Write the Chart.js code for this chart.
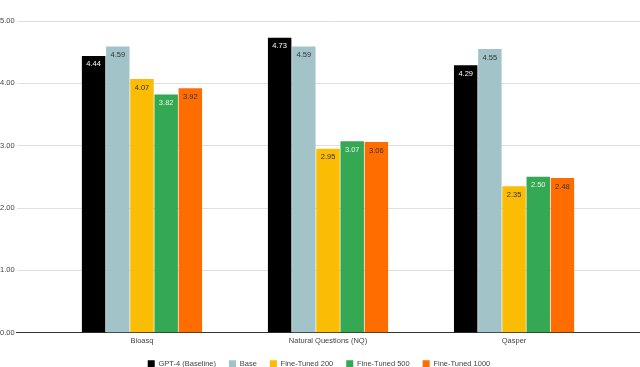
<!DOCTYPE html>
<html>
<head>
<meta charset="utf-8">
<script src="https://cdn.jsdelivr.net/npm/chart.js@4.4.1/dist/chart.umd.min.js"></script>
<style>
    html, body { margin: 0; padding: 0; background: #fff; overflow: hidden; }
    #wrap { position: relative; width: 640px; height: 367px; overflow: hidden; }
    #chart-area { position: absolute; left: -2px; top: 0; }
</style>
</head>
<body>
<div id="wrap"><canvas id="chart-area" width="642" height="367"></canvas></div>
<script>
// data
var categories = ['Bioasq', 'Natural Questions (NQ)', 'Qasper'];
var seriesNames = ['GPT-4 (Baseline)', 'Base', 'Fine-Tuned 200', 'Fine-Tuned 500', 'Fine-Tuned 1000'];
var gpt4 = [4.44, 4.73, 4.29];
var base = [4.59, 4.59, 4.55];
var ft200 = [4.07, 2.95, 2.35];
var ft500 = [3.82, 3.07, 2.50];
var ft1000 = [3.92, 3.06, 2.48];
var yTicks = [0, 1, 2, 3, 4, 5];

// set color
var colors = ['#000000', '#a2c4c9', '#fbbc04', '#34a853', '#ff6d01'];
var labelColors = ['#ffffff', '#333333', '#333333', '#e8f5ea', '#333333'];
var fontFamily = '"Liberation Sans", Arial, sans-serif';

function toPoints(arr) {
    var pts = [];
    for (var i = 0; i < arr.length; i++) {
        pts.push({ x: i, y: arr[i] });
    }
    return pts;
}

var allSeries = [gpt4, base, ft200, ft500, ft1000];
var datasets = [];
for (var s = 0; s < allSeries.length; s++) {
    datasets.push({
        label: seriesNames[s],
        data: toPoints(allSeries[s]),
        backgroundColor: colors[s],
        borderWidth: 0,
        categoryPercentage: 0.65,
        barPercentage: 0.97
    });
}

// value labels inside the top of each bar
var valueLabels = {
    id: 'valueLabels',
    afterDatasetsDraw: function (chart) {
        var ctx = chart.ctx;
        ctx.save();
        ctx.font = '7.5px ' + fontFamily;
        ctx.textAlign = 'center';
        ctx.textBaseline = 'middle';
        chart.data.datasets.forEach(function (ds, i) {
            var meta = chart.getDatasetMeta(i);
            meta.data.forEach(function (bar, j) {
                ctx.fillStyle = labelColors[i];
                ctx.fillText(ds.data[j].y.toFixed(2), bar.x, bar.y + 8.5);
            });
        });
        ctx.restore();
    }
};

var ctx = document.getElementById('chart-area').getContext('2d');
var config = {
    type: 'bar',
    data: { datasets: datasets },
    options: {
        responsive: false,
        animation: false,
        layout: { padding: { top: 21, right: 0, left: 0, bottom: -10.5 } },
        scales: {
            x: {
                type: 'linear',
                min: -0.674,
                max: 2.677,
                offset: false,
                grid: { display: false, drawTicks: false },
                border: { display: true, color: '#333333', width: 1 },
                afterFit: function (scale) { scale.height = 14.3; },
                ticks: {
                    stepSize: 1,
                    includeBounds: false,
                    autoSkip: false,
                    maxRotation: 0,
                    padding: 8.3,
                    color: '#444444',
                    font: { family: fontFamily, size: 7.5, lineHeight: 0.1 },
                    callback: function (value) {
                        return Number.isInteger(value) ? categories[value] : '';
                    }
                }
            },
            y: {
                min: yTicks[0],
                max: yTicks[yTicks.length - 1],
                border: { display: false },
                grid: {
                    color: function (c) { return c.tick && c.tick.value === 0 ? '#333333' : '#e0e0e0'; },
                    drawTicks: false
                },
                ticks: {
                    stepSize: 1,
                    padding: 2,
                    color: '#444444',
                    font: { family: fontFamily, size: 7.5 },
                    callback: function (value) { return value.toFixed(2); }
                }
            }
        },
        plugins: {
            legend: {
                position: 'bottom',
                labels: {
                    boxWidth: 7,
                    boxHeight: 7,
                    padding: 13,
                    color: '#444444',
                    font: { family: fontFamily, size: 7.5 }
                }
            },
            tooltip: { enabled: false }
        }
    },
    plugins: [valueLabels]
};

window.myBar = new Chart(ctx, config);
</script>
</body>
</html>
